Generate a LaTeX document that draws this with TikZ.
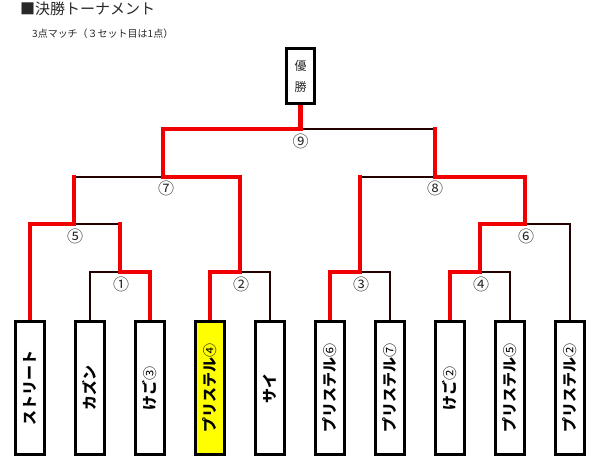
\documentclass[tikz,border=0pt]{standalone}
\usepackage{fontspec}
\usepackage{graphicx}
\setmainfont{Noto Sans CJK JP}
\usetikzlibrary{backgrounds}
\definecolor{winred}{RGB}{240,0,0}
\definecolor{lineblk}{RGB}{35,0,0}
\definecolor{txtgray}{RGB}{40,40,40}
\definecolor{hiyellow}{RGB}{255,255,0}
\newcommand\smcirc[1]{{\fontsize{14}{14}\selectfont\mdseries #1}}
\begin{document}
\begin{tikzpicture}[x=1pt,y=-1pt,
  namebox/.style={draw=black, line width=2.7pt, fill=white, minimum width=29pt, minimum height=133pt, inner sep=0pt, font=\fontsize{15}{15}\selectfont\bfseries},
  winbox/.style={draw=black, line width=2.7pt, fill=white, minimum width=28pt, minimum height=55pt, inner sep=0pt, align=center, text=txtgray, font=\fontsize{12}{21}\selectfont},
  lab/.style={inner sep=0pt, text=txtgray, font=\fontsize{16}{16}\selectfont},
  redp/.style={draw=winred, line width=4.2pt, line join=miter, line cap=rect},
  blkp/.style={draw=lineblk, line width=1.3pt, line join=miter}
]
\useasboundingbox (0,0) rectangle (600,463);

% titles
\node[anchor=west, inner sep=0pt, text=txtgray, font=\fontsize{15}{15}\selectfont] (title) at (20,9) {■決勝トーナメント};
\node[anchor=west, inner sep=0pt, text=txtgray, font=\fontsize{10}{10}\selectfont] (sub) at (32,34) {3点マッチ（３セット目は1点）};

% winner box
\node[winbox] (w) at (300.5,76) {優\\勝};

% name boxes
\node[namebox] (b1) at (30,388) {\rotatebox{90}{ストリート}};
\node[namebox] (b2) at (90,388) {\rotatebox{90}{カズン}};
\node[namebox] (b3) at (150,388) {\rotatebox{90}{けご\smcirc{③}}};
\node[namebox, fill=hiyellow] (b4) at (210,388) {\rotatebox{90}{プリステル\smcirc{④}}};
\node[namebox] (b5) at (270,388) {\rotatebox{90}{サイ}};
\node[namebox] (b6) at (330,388) {\rotatebox{90}{プリステル\smcirc{⑥}}};
\node[namebox] (b7) at (390,388) {\rotatebox{90}{プリステル\smcirc{⑦}}};
\node[namebox] (b8) at (450,388) {\rotatebox{90}{けご\smcirc{②}}};
\node[namebox] (b9) at (510,388) {\rotatebox{90}{プリステル\smcirc{⑤}}};
\node[namebox] (b10) at (570,388) {\rotatebox{90}{プリステル\smcirc{②}}};

% match junctions
\coordinate (j1) at (120,272);
\coordinate (j2) at (240,272);
\coordinate (j3) at (360,272);
\coordinate (j4) at (480,272);
\coordinate (j5) at (74,224);
\coordinate (j6) at (525,224);
\coordinate (j7) at (163,177);
\coordinate (j8) at (435,177);
\coordinate (j9) at (300.5,129);

% match labels
\node[lab] (l1) at (121,284) {①};
\node[lab] (l2) at (241,284) {②};
\node[lab] (l3) at (361,284) {③};
\node[lab] (l4) at (481,284) {④};
\node[lab] (l5) at (75,236) {⑤};
\node[lab] (l6) at (526,236) {⑥};
\node[lab] (l7) at (166,188) {⑦};
\node[lab] (l8) at (435,188) {⑧};
\node[lab] (l9) at (300.5,141) {⑨};

\begin{scope}[on background layer]
  % losing lines
  \draw[blkp] (b2.north) |- (j1);
  \draw[blkp] (b5.north) |- (j2);
  \draw[blkp] (b7.north) |- (j3);
  \draw[blkp] (b9.north) |- (j4);
  \draw[blkp] (b10.north) |- (j6);
  \draw[blkp] (j1 |- j5) -- (j5);
  \draw[blkp] (j5 |- j7) -- (j7);
  \draw[blkp] (j3 |- j8) -- (j8);
  \draw[blkp] (j8 |- j9) -- (j9);
  % winning lines
  \draw[redp] (b1.north) |- (j5) -- (j5 |- j7);
  \draw[redp] (b3.north) |- (j1) -- (j1 |- j5);
  \draw[redp] (b4.north) |- (j2) |- (j7) |- (j9) -- (w.south);
  \draw[redp] (b6.north) |- (j3) -- (j3 |- j8);
  \draw[redp] (b8.north) |- (j4) |- (j6) |- (j8) -- (j8 |- j9);
\end{scope}
\end{tikzpicture}
\end{document}
